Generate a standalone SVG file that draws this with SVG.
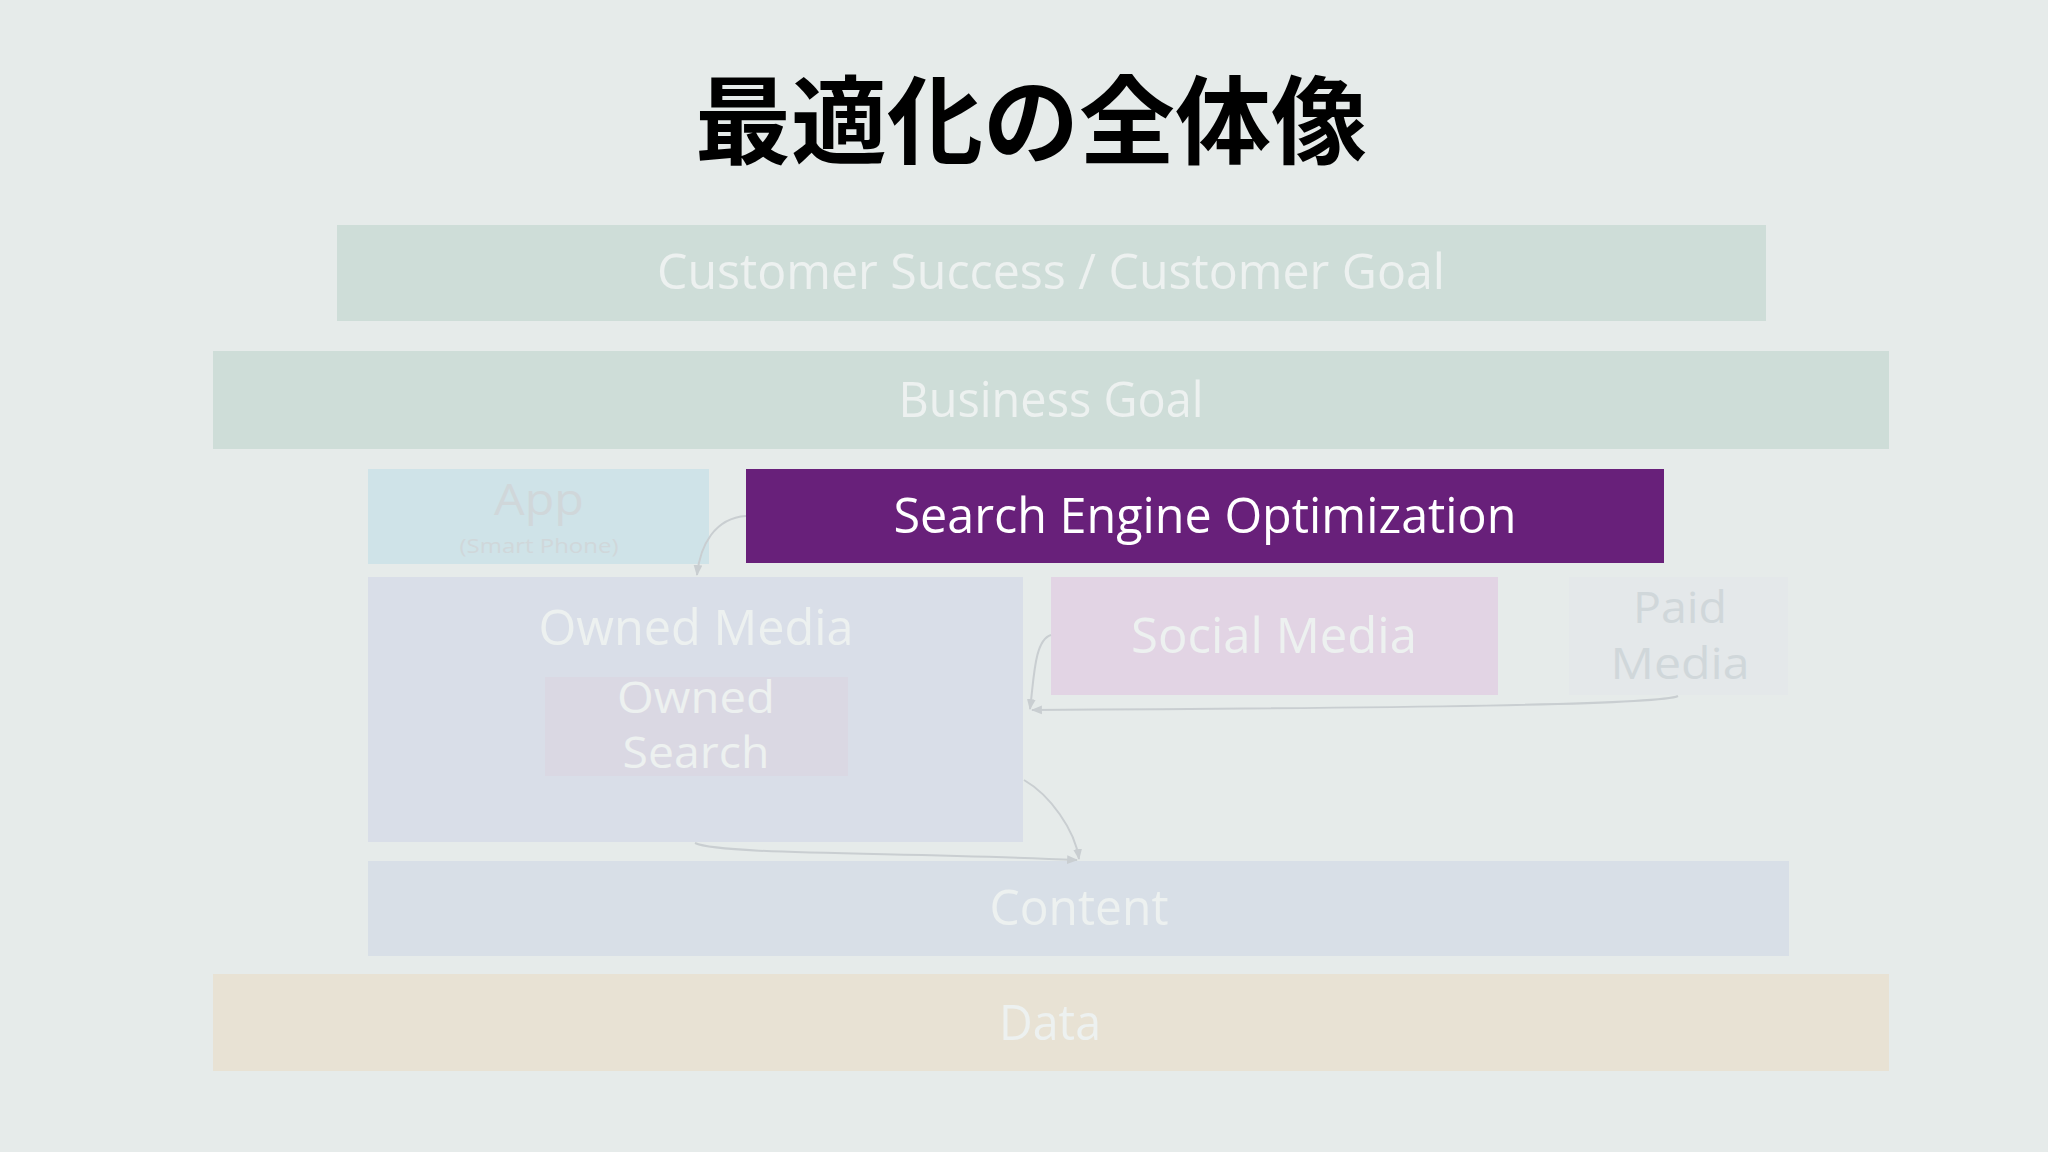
<svg xmlns="http://www.w3.org/2000/svg" width="2048" height="1152" viewBox="0 0 2048 1152">
<defs>
<style>
.lbl{font-family:"Segoe UI","Open Sans","Noto Sans",sans-serif;font-size:50px;fill:#EDF1F0;text-anchor:middle}
.two{font-size:44px}
.app{font-size:44px}
.small{font-size:20px}
.dim{fill:#D0D7DA}
.conn{fill:none;stroke:#C9CED1;stroke-width:2}
</style>
<marker id="ah" viewBox="0 0 10 10" refX="9" refY="5" markerWidth="11" markerHeight="11" orient="auto" markerUnits="userSpaceOnUse">
<path d="M0,1 L10,5 L0,9 z" fill="#C9CED1"/>
</marker>
</defs>
<rect width="2048" height="1152" fill="#E6EBEA"/>
<text x="1031" y="156" font-family="'Noto Sans CJK JP',sans-serif" font-weight="bold" font-size="96" text-anchor="middle" fill="#000">最適化の全体像</text>

<g id="customer-goal">
<rect x="337" y="225" width="1429" height="96" fill="#CEDDD8"/>
<text class="lbl" x="1051" y="289" textLength="788" lengthAdjust="spacingAndGlyphs">Customer Success / Customer Goal</text>
</g>
<g id="business-goal">
<rect x="213" y="351" width="1676" height="98" fill="#CEDDD8"/>
<text class="lbl" x="1051" y="417" textLength="305" lengthAdjust="spacingAndGlyphs">Business Goal</text>
</g>
<g id="app">
<rect x="368" y="469" width="341" height="95" fill="#CFE3E8"/>
<text class="lbl dim app" x="539" y="515" textLength="90" lengthAdjust="spacingAndGlyphs">App</text>
<text class="lbl dim small" x="539" y="553" textLength="159" lengthAdjust="spacingAndGlyphs">(Smart Phone)</text>
</g>
<g id="seo">
<rect x="746" y="469" width="918" height="94" fill="#68207A"/>
<text class="lbl" x="1205" y="533" style="fill:#FFFFFF" textLength="623" lengthAdjust="spacingAndGlyphs">Search Engine Optimization</text>
</g>
<g id="owned-media">
<rect x="368" y="577" width="655" height="265" fill="#D9DEE8"/>
<text class="lbl" x="696" y="645" textLength="315" lengthAdjust="spacingAndGlyphs">Owned Media</text>
</g>
<g id="owned-search">
<rect x="545" y="677" width="303" height="99" fill="#DAD8E3"/>
<text class="lbl two" x="696" y="713" textLength="158" lengthAdjust="spacingAndGlyphs">Owned</text>
<text class="lbl two" x="696" y="768" textLength="147" lengthAdjust="spacingAndGlyphs">Search</text>
</g>
<g id="social-media">
<rect x="1051" y="577" width="447" height="118" fill="#E2D4E4"/>
<text class="lbl" x="1274" y="653" textLength="286" lengthAdjust="spacingAndGlyphs">Social Media</text>
</g>
<g id="paid-media">
<rect x="1569" y="577" width="219" height="118" fill="#E4E8EA"/>
<text class="lbl dim two" x="1680" y="623" textLength="94" lengthAdjust="spacingAndGlyphs">Paid</text>
<text class="lbl dim two" x="1680" y="679" textLength="139" lengthAdjust="spacingAndGlyphs">Media</text>
</g>
<g id="content">
<rect x="368" y="861" width="1421" height="95" fill="#D8DFE7"/>
<text class="lbl" x="1079" y="925" textLength="179" lengthAdjust="spacingAndGlyphs">Content</text>
</g>
<g id="data">
<rect x="213" y="974" width="1676" height="97" fill="#E8E2D4"/>
<text class="lbl" x="1050" y="1040" textLength="102" lengthAdjust="spacingAndGlyphs">Data</text>
</g>

<g id="connectors">
<path class="conn" d="M746,516 C715,518 700,545 697,575" marker-end="url(#ah)"/>
<path class="conn" d="M1051,635 C1034,640 1034,680 1030,709" marker-end="url(#ah)"/>
<path class="conn" d="M1678,696 C1660,705 1400,708 1032,710" marker-end="url(#ah)"/>
<path class="conn" d="M1024,780 C1050,795 1075,830 1079,859" marker-end="url(#ah)"/>
<path class="conn" d="M695,843 C720,855 900,852 1077,860" marker-end="url(#ah)"/>
</g>
</svg>
